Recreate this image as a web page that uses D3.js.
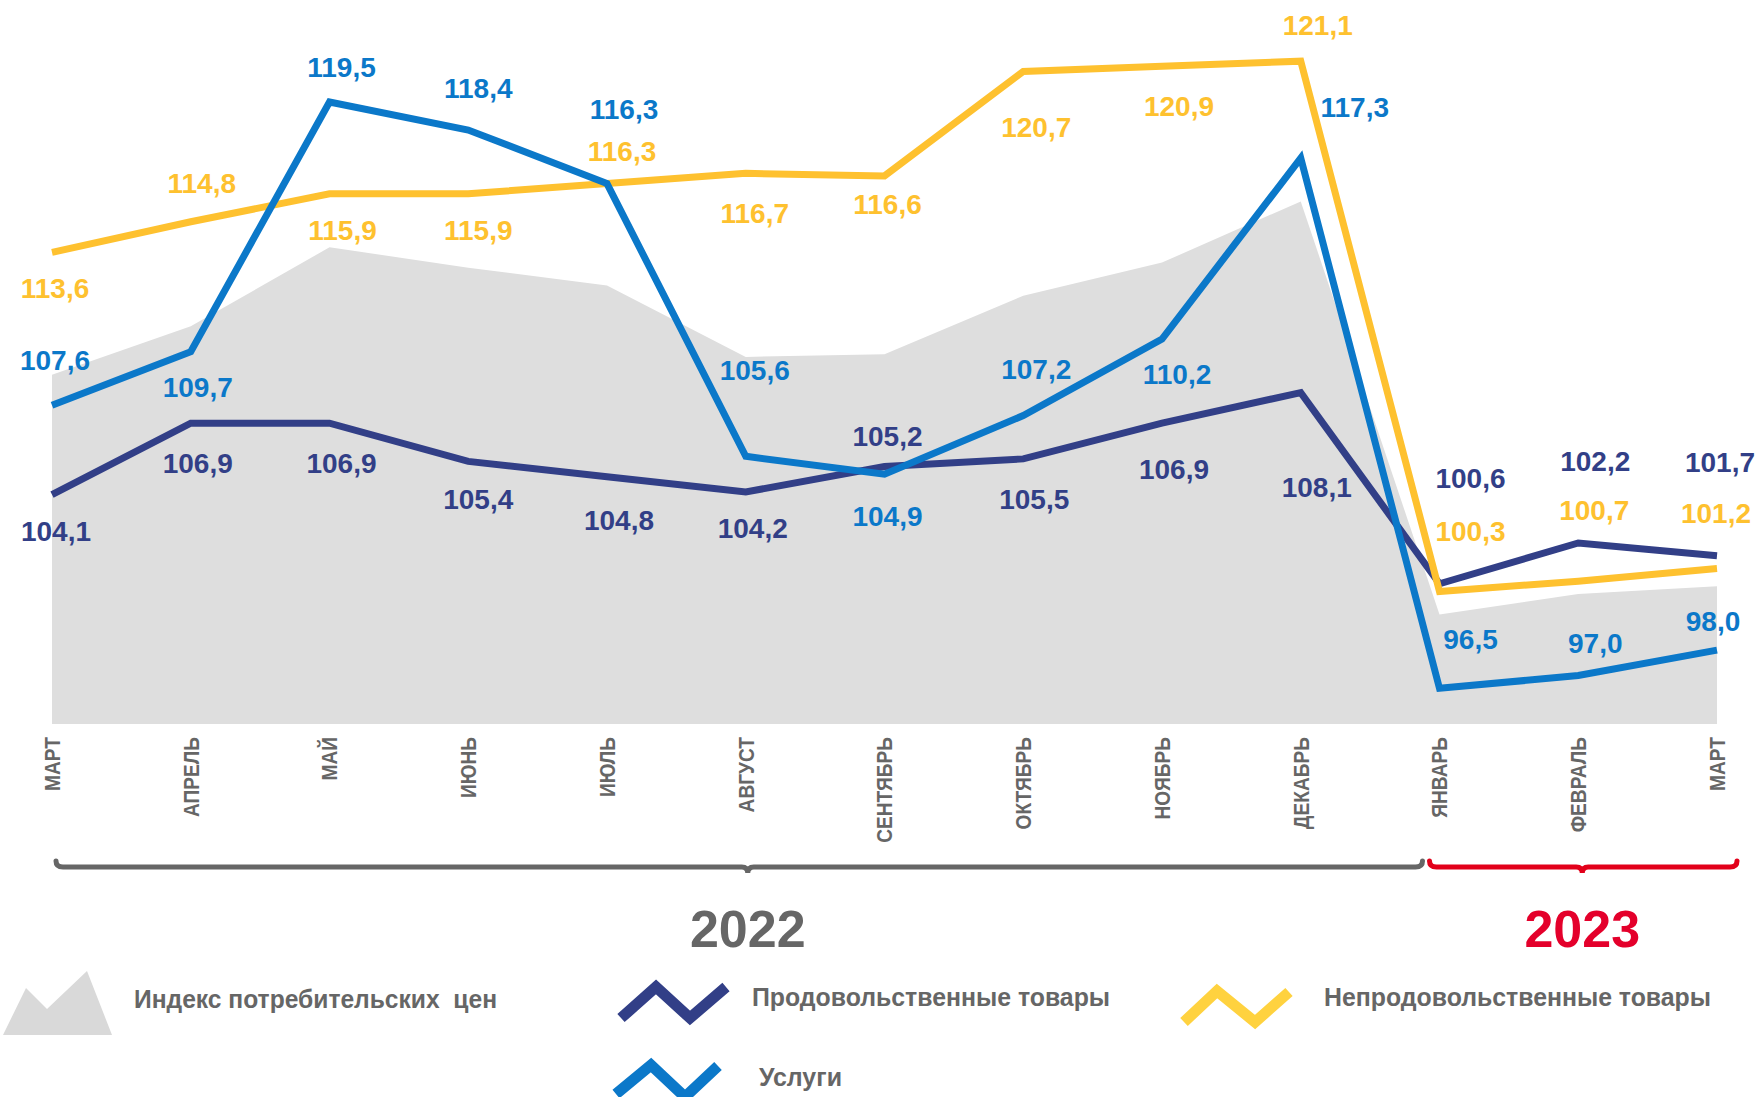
<!DOCTYPE html>
<html lang="ru">
<head>
	<meta charset="UTF-8"/>
	<title>Индексы цен</title>
	<script src="https://d3js.org/d3.v7.min.js"></script>
	<style>
		body { margin: 0; background: #fff; }
		text { font-family: "Liberation Sans", Arial, sans-serif; font-weight: bold; white-space: pre; }
	</style>
</head>
<body>
	<script>
		// months on the x axis
		var months = ["МАРТ", "АПРЕЛЬ", "МАЙ", "ИЮНЬ", "ИЮЛЬ", "АВГУСТ", "СЕНТЯБРЬ",
					"ОКТЯБРЬ", "НОЯБРЬ", "ДЕКАБРЬ", "ЯНВАРЬ", "ФЕВРАЛЬ", "МАРТ"];

		// series values (from the picture)
		var cpi      = [108.8, 110.7, 113.8, 113.0, 112.3, 109.5, 109.6, 111.9, 113.2, 115.6, 99.4, 100.2, 100.5];
		var food     = [104.1, 106.9, 106.9, 105.4, 104.8, 104.2, 105.2, 105.5, 106.9, 108.1, 100.6, 102.2, 101.7];
		var nonFood  = [113.6, 114.8, 115.9, 115.9, 116.3, 116.7, 116.6, 120.7, 120.9, 121.1, 100.3, 100.7, 101.2];
		var services = [107.6, 109.7, 119.5, 118.4, 116.3, 105.6, 104.9, 107.2, 110.2, 117.3, 96.5, 97.0, 98.0];

		var years = ["2022", "2023"];
		var legendNames = ["Индекс потребительских  цен", "Продовольственные товары",
						"Непродовольственные товары", "Услуги"];

		// label offsets from each point [dx, dy] (layout only)
		var foodLabelPos = [[4,36],[7,40],[12,40],[10,37],[12,43],[7,36],[3,-31],[11,40],[12,46],[16,94],[31,-106],[17,-82],[3,-94]];
		var nonFoodLabelPos = [[3,36],[11,-39],[13,36],[10,36],[15,-33],[9,40],[3,28],[13,56],[17,40],[17,-36],[31,-61],[16,-71],[-1,-56]];
		var servicesLabelPos = [[3,-45],[7,35],[12,-35],[10,-42],[17,-75],[9,-86],[3,42],[13,-47],[15,35],[54,-51],[31,-49],[17,-33],[-4,-29]];

		var w = 1760;
		var h = 1097;

		var colFood = "#323f87";
		var colNonFood = "#fec12f";
		var colServices = "#0b78c9";
		var colCpi = "#dedede";
		var colText = "#666666";
		var colRed = "#e2001a";

		var idx = d3.range(months.length);

		var xScale = d3.scalePoint()
					.domain(idx)
					.range([52, 1717]);

		var yScale = d3.scaleLinear()
					.domain([95.1, 123.5])
					.range([724, 0]);

		var svg = d3.select("body")
					.append("svg")
					.attr("width", w)
					.attr("height", h);

		// grey CPI area
		var area = d3.area()
					.x(function(d, i){ return xScale(i); })
					.y0(yScale(95.1))
					.y1(function(d){ return yScale(d); });

		svg.append("path")
			.datum(cpi)
			.attr("d", area)
			.attr("fill", colCpi);

		var line = d3.line()
					.x(function(d, i){ return xScale(i); })
					.y(function(d){ return yScale(d); });

		var series = [
			{ values: food, color: colFood, pos: foodLabelPos },
			{ values: nonFood, color: colNonFood, pos: nonFoodLabelPos },
			{ values: services, color: colServices, pos: servicesLabelPos }
		];

		series.forEach(function(s){
			svg.append("path")
				.datum(s.values)
				.attr("d", line)
				.attr("fill", "none")
				.attr("stroke", s.color)
				.attr("stroke-width", 7)
				.attr("stroke-linejoin", "miter");
		});

		series.forEach(function(s){
			svg.append("g")
				.selectAll("text")
				.data(s.values)
				.enter()
				.append("text")
				.attr("x", function(d, i){ return xScale(i) + s.pos[i][0]; })
				.attr("y", function(d, i){ return yScale(d) + s.pos[i][1]; })
				.attr("dy", "0.36em")
				.attr("text-anchor", "middle")
				.attr("font-size", 28)
				.attr("fill", s.color)
				.text(function(d){ return d.toFixed(1).replace(".", ","); });
		});

		// month labels (rotated, condensed)
		svg.append("g")
			.selectAll("text")
			.data(months)
			.enter()
			.append("text")
			.attr("transform", function(d, i){ return "translate(" + xScale(i) + ",737) rotate(-90) scale(0.87,1)"; })
			.attr("dy", "0.36em")
			.attr("text-anchor", "end")
			.attr("font-size", 22)
			.attr("fill", colText)
			.text(function(d){ return d; });

		// year braces
		function brace(x0, x1, xc, y, color) {
			var p = d3.path();
			p.moveTo(x0, y - 6);
			p.quadraticCurveTo(x0, y, x0 + 7, y);
			p.lineTo(xc - 6, y);
			p.quadraticCurveTo(xc, y, xc, y + 6);
			p.quadraticCurveTo(xc, y, xc + 6, y);
			p.lineTo(x1 - 7, y);
			p.quadraticCurveTo(x1, y, x1, y - 6);
			svg.append("path")
				.attr("d", p.toString())
				.attr("fill", "none")
				.attr("stroke", color)
				.attr("stroke-width", 5)
				.attr("stroke-linecap", "round");
		}

		var braces = [
			{ x0: xScale(0) + 4, x1: xScale(10) - 17, xc: xScale(5) + 2, color: colText },
			{ x0: xScale(10) - 10, x1: xScale(12) + 20, xc: xScale(11) + 4, color: colRed }
		];

		braces.forEach(function(b, i){
			brace(b.x0, b.x1, b.xc, 867, b.color);
			svg.append("text")
				.attr("x", b.xc)
				.attr("y", 947)
				.attr("text-anchor", "middle")
				.attr("font-size", 52)
				.attr("fill", i === 0 ? colText : "#e4002b")
				.text(years[i]);
		});

		// legend
		var leg = svg.append("g");

		leg.append("path")
			.attr("d", "M3,1035 L26,988 L47,1009 L87,971 L112,1035 Z")
			.attr("fill", "#d9d9d9");

		var zig = [
			{ pts: [[621,1018],[656,987],[690,1018],[726,987]], color: colFood },
			{ pts: [[1184,1022],[1217,991],[1255,1022],[1289,992]], color: "#ffd23f" },
			{ pts: [[616,1094],[651,1065],[685,1097],[718,1066]], color: colServices }
		];

		zig.forEach(function(z){
			leg.append("path")
				.attr("d", d3.line()(z.pts))
				.attr("fill", "none")
				.attr("stroke", z.color)
				.attr("stroke-width", 11)
				.attr("stroke-linejoin", "miter");
		});

		var legText = [
			{ x: 134, y: 1008, len: 363 },
			{ x: 752, y: 1006, len: 358 },
			{ x: 1324, y: 1006, len: 387 },
			{ x: 759, y: 1086, len: 83 }
		];

		leg.selectAll("text")
			.data(legendNames)
			.enter()
			.append("text")
			.attr("x", function(d, i){ return legText[i].x; })
			.attr("y", function(d, i){ return legText[i].y; })
			.attr("font-size", 25)
			.attr("fill", colText)
			.attr("textLength", function(d, i){ return legText[i].len; })
			.attr("lengthAdjust", "spacingAndGlyphs")
			.text(function(d){ return d; });
	</script>
</body>
</html>
